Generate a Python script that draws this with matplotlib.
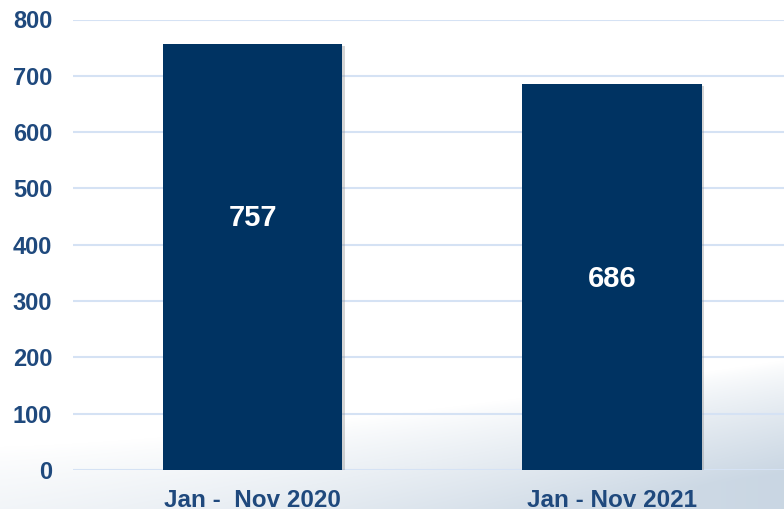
import numpy as np
import matplotlib
matplotlib.use('Agg')
import matplotlib.pyplot as plt
import matplotlib.patheffects as pe

# data
categories = ['Jan -  Nov 2020', 'Jan - Nov 2021']
values = [757, 686]
label_y = [447, 340]   # where the value labels sit inside the bars

plt.rcParams['font.family'] = ['Liberation Sans', 'DejaVu Sans']
plt.rcParams['font.weight'] = 'bold'

W, H = 784, 509
fig = plt.figure(figsize=(W / 100, H / 100), dpi=100)

# soft grey-blue swoosh at the bottom of the slide background
bg = fig.add_axes([0, 0, 1, 1], zorder=0)
bg.axis('off')
xx, yy = np.meshgrid(np.linspace(0, 1, W), np.linspace(0, 1, H))
h = 1 - yy                                  # height from bottom
curve = 0.12 + 0.17 * xx ** 1.4             # upper edge of the swoosh
amt = np.clip((curve - h) / 0.22, 0, 1) ** 0.8
amt = amt * (0.4 + 0.6 * xx)
top = np.array([1.0, 1.0, 1.0])
low = np.array([0.79, 0.84, 0.89])
img = top[None, None, :] * (1 - amt[..., None]) + low[None, None, :] * amt[..., None]
bg.imshow(img, extent=[0, 1, 0, 1], aspect='auto', origin='upper')
bg.set_xlim(0, 1)
bg.set_ylim(0, 1)

ax = fig.add_axes([73 / W, 39 / H, (791.5 - 73) / W, 450.5 / H], zorder=1)
ax.patch.set_alpha(0)

x = np.arange(len(categories))
bars = ax.bar(x, values, width=0.5, color='#003362', zorder=3)
for b in bars:
    b.set_path_effects([pe.SimplePatchShadow(offset=(2, -2), shadow_rgbFace='#888888', alpha=0.35),
                        pe.Normal()])

for xi, yv, v in zip(x, label_y, values):
    ax.text(xi, yv, str(v), ha='center', va='center', color='white',
            fontsize=21, fontweight='bold', zorder=4)

ax.set_xlim(-0.5, 1.5)
ax.set_ylim(0, 800)
ax.set_yticks(range(0, 801, 100))
ax.yaxis.grid(True, color='#d5e2f4', linewidth=1.5, zorder=0)
ax.set_axisbelow(True)
ax.set_xticks(x)
ax.set_xticklabels(categories, fontsize=17.5)
for s in ax.spines.values():
    s.set_visible(False)
ax.tick_params(axis='both', length=0, labelcolor='#1f497d')
ax.tick_params(axis='y', pad=15, labelsize=17)
ax.tick_params(axis='x', pad=14)

plt.savefig('out.png', dpi=100)
